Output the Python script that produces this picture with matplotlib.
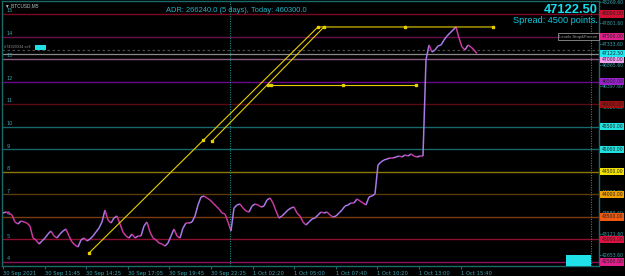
import numpy as np
import matplotlib
matplotlib.use("Agg")
import matplotlib.pyplot as plt
import matplotlib.transforms as mtransforms
from matplotlib.collections import LineCollection
from matplotlib.patches import Rectangle

# BTCUSD closes, sampled roughly every 15 minutes
closes = [
    43586, 43608, 43586, 43542, 43387, 43342, 43409, 43387, 43364, 43298,
    43032, 42987, 42899, 42965, 43032, 43120, 43187, 43076, 43032, 43120,
    43187, 43231, 43076, 42943, 42876, 42832, 42987, 43032, 42965, 43010,
    43076, 43165, 43253, 43387, 43653, 43431, 43364, 43475, 43520, 43342,
    43165, 43076, 43032, 43120, 43032, 43076, 43076, 43298, 43387, 43165,
    43032, 42987, 42921, 42899, 42854, 42921, 43076, 43231, 43076, 43032,
    43253, 43364, 43364, 43387, 43520, 43764, 43941, 43963, 43919, 43875,
    43808, 43741, 43675, 43586, 43564, 43387, 43187, 43697, 43764, 43786,
    43697, 43631, 43608, 43741, 43786, 43764, 43719, 43741, 43875, 43919,
    43808, 43631, 43475, 43520, 43586, 43653, 43697, 43719, 43586, 43520,
    43387, 43320, 43387, 43453, 43475, 43542, 43608, 43586, 43608, 43542,
    43497, 43520, 43586, 43653, 43741, 43764, 43808, 43808, 43897, 43852,
    43808, 43764, 43941, 43963, 44008, 44651, 44717, 44762, 44784, 44806,
    44806, 44828, 44850, 44828, 44873, 44850, 44895, 44850, 44828, 44850,
    44850, 46980, 47312, 47157, 47202, 47290, 47312, 47423, 47512, 47579,
    47645, 47712, 47468, 47268, 47202, 47312, 47268, 47202, 47122.5,
]

levels = [48000, 47500, 47000, 46500, 46000, 45500, 45000, 44500, 44000, 43500, 43000, 42500]
level_nums = ["15", "14", "13", "12", "11", "10", "9", "8", "7", "6", "5", "4"]
level_line_colors = ["#7a0a22", "#6a1050", "#8a5a80", "#6a0a8a", "#5a0a12", "#176868",
                     "#176868", "#8a7800", "#5a3a0a", "#7a3a10", "#8a1030", "#8a1060"]
level_box_colors = ["#d01030", "#e0208a", "#f0a0f0", "#9a20d0", "#a01010", "#20e0e0",
                    "#20e0e0", "#f0e000", "#f0a000", "#f05a10", "#e01040", "#e0208a"]

right_ticks = [48269.60, 47801.60, 47333.60, 46865.60, 46397.60, 45929.60,
               44057.60, 43589.60, 43121.60, 42653.60]
time_labels = ["30 Sep 2021", "30 Sep 11:45", "30 Sep 14:25", "30 Sep 17:05",
               "30 Sep 19:45", "30 Sep 22:25", "1 Oct 02:20", "1 Oct 05:00",
               "1 Oct 07:40", "1 Oct 10:20", "1 Oct 13:00", "1 Oct 15:40"]
tick_step = 13.87

bid = 47122.50
order_price = 47200.0
spread = 4500
adr, today = 266240.0, 460300.0

# trend objects: (x anchors, prices) and their handle points
channel_a = ([28.7, 105.0, 163.3], [42699, 47712, 47712])
channel_a_handles = ([28.7, 66.7, 105.0, 134.0, 163.3], [42699, 45205, 47712, 47712, 47712])
channel_b = ([69.7, 107.0], [45183, 47712])
channel_b_handles = ([69.7, 88.3, 107.0], [45183, 46425, 47712])
hline_c = ([89.3, 137.7], [46425, 46425])
hline_c_handles = ([89.3, 113.3, 137.7], [46425, 46425, 46425])

teal = "#1a6a6a"
txt_teal = "#3aa6b0"
fam = ["Liberation Sans", "DejaVu Sans"]

fig = plt.figure(figsize=(6.25, 2.76), dpi=100, facecolor="black")
ax = fig.add_axes([2 / 625, 10 / 276, 597 / 625, 265 / 276])
ax.set_facecolor("black")
ax.set_xlim(-0.33, 198.67)
ax.set_ylim(42411, 48288)

for s in ax.spines.values():
    s.set_color(teal)
    s.set_linewidth(1)

# levels
for lv, c in zip(levels, level_line_colors):
    ax.axhline(lv, color=c, lw=1.0, zorder=1)
for lv, n in zip(levels, level_nums):
    ax.text(1.2, lv + 15, n, fontsize=3.6, color=txt_teal, va="bottom", ha="left",
            family="DejaVu Sans", zorder=3)

ax.axhline(order_price, color="#4a4a4a", lw=0.9, ls=(0, (2, 2)), zorder=1)
ax.axhline(bid, color="#8a8a8a", lw=0.9, zorder=1)

ax.axvline(75.67, color="#1a8a8a", lw=0.8, ls=(0, (1, 1.2)), zorder=1)
ax.axvline(196.0, color="#1a8a8a", lw=0.8, ls=(0, (1, 1.2)), zorder=1)

# price series
x = np.arange(len(closes))
pts = np.column_stack([x, closes])
segs = np.stack([pts[:-1], pts[1:]], axis=1)
cols = ["#a878e8" if b > a else "#c8389e" for a, b in zip(closes[:-1], closes[1:])]
ax.add_collection(LineCollection(segs, colors=cols, linewidths=1.1, zorder=4))

# trend channel
yel = "#e8d000"
for xs, ys in [channel_a, channel_b, hline_c]:
    ax.plot(xs, ys, color=yel, lw=0.8, zorder=5)
for xs, ys in [channel_a_handles, channel_b_handles, hline_c_handles]:
    ax.plot(xs, ys, ls="none", marker="s", ms=1.6, color=yel, zorder=5)

# axes ticks
ax.set_xticks(np.arange(len(time_labels)) * tick_step)
ax.set_xticklabels(time_labels, ha="left", fontsize=3.8, color=txt_teal)
ax.tick_params(axis="x", length=2, color=teal, pad=1.5)
ax.yaxis.tick_right()
ax.set_yticks(right_ticks)
ax.set_yticklabels([f"{v:.2f}" for v in right_ticks], fontsize=3.3, color=txt_teal)
ax.tick_params(axis="y", length=1.2, color=teal, pad=0.8)

trans = mtransforms.blended_transform_factory(ax.transAxes, ax.transData)
for lv, c in zip(levels, level_box_colors):
    ax.text(1.004, lv, f"{lv:.2f}", transform=trans, fontsize=3.3, color="#202020",
            va="center", ha="left", clip_on=False, zorder=10,
            bbox=dict(boxstyle="square,pad=0.25", fc=c, ec="none"))
ax.text(1.004, bid, f"{bid:.2f}", transform=trans, fontsize=3.3, color="#202020",
        va="center", ha="left", clip_on=False, zorder=10,
        bbox=dict(boxstyle="square,pad=0.25", fc="#20e8f0", ec="none"))

# texts
ax.text(0.005, 0.993, "\u25bc BTCUSD,M5", transform=ax.transAxes, fontsize=3.4,
        color="#b0c8c8", va="top", ha="left", family=fam)
ax.text(0.392, 0.965, f"ADR: {adr:.1f} (5 days), Today: {today:.1f}", transform=ax.transAxes,
        fontsize=5.4, color="#22b4c4", va="center", ha="center", family=fam)
ax.text(0.9975, 0.99, f"{bid:.2f}", transform=ax.transAxes, fontsize=9.3,
        fontweight="bold", color="#10e0f0", va="top", ha="right", family=fam)
ax.text(0.9975, 0.925, f"Spread: {spread} points.", transform=ax.transAxes, fontsize=6.6,
        color="#10c8e0", va="center", ha="right", family=fam)
ax.text(0.9975, 47500, "Levels Stop&Freeze", transform=trans, fontsize=3.1,
        color="#9a9a9a", va="center", ha="right", family=fam, zorder=9,
        bbox=dict(boxstyle="square,pad=0.3", fc="black", ec="#b0b0b0", lw=0.5))
ax.text(0.004, order_price + 20, "#74920334 sell", transform=trans, fontsize=2.8,
        color="#909090", va="bottom", ha="left", family=fam)
ax.add_patch(Rectangle((0.056, order_price + 5), 0.017, 110, transform=trans,
                       fc="#20e0e8", ec="none", zorder=6))
ax.add_patch(Rectangle((0.945, 0.0), 0.042, 0.04, transform=ax.transAxes,
                       fc="#20e0e8", ec="none", zorder=6))

fig.savefig("out.png", dpi=100, facecolor="black")
